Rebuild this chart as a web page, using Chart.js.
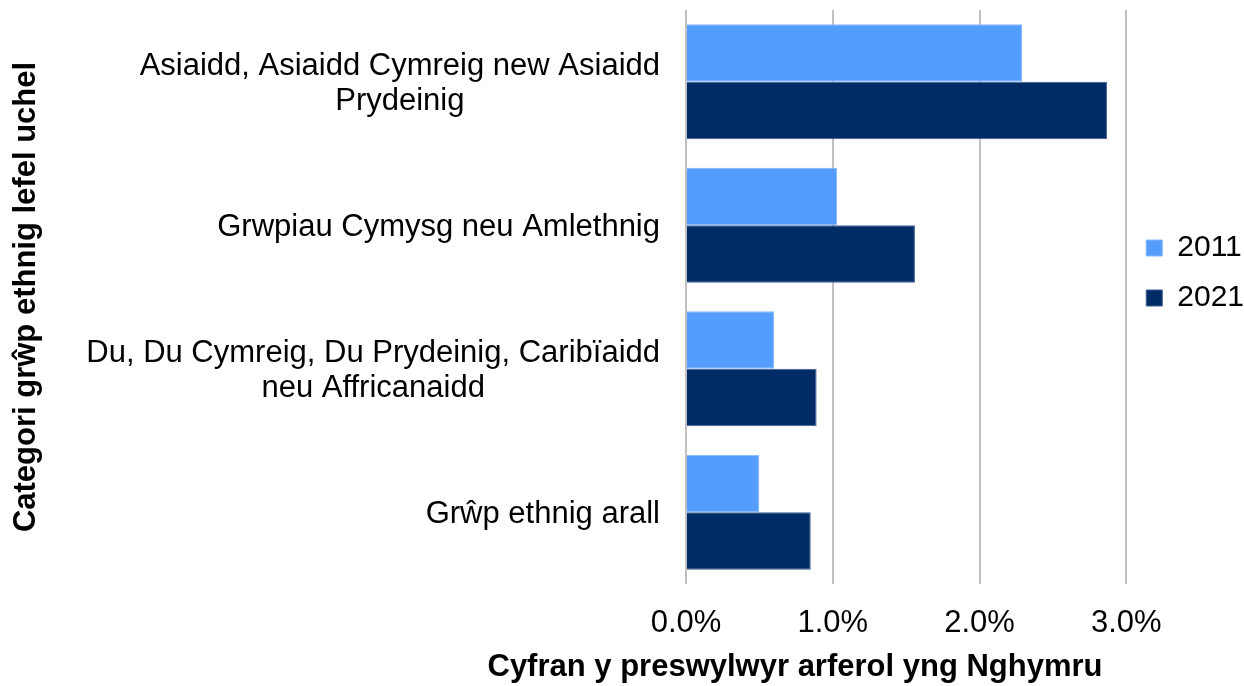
<!DOCTYPE html>
<html>
<head>
<meta charset="utf-8">
<script src="https://cdn.jsdelivr.net/npm/chart.js@4/dist/chart.umd.min.js"></script>
<style>
  body { margin: 0; background: #fff; }
</style>
</head>
<body>
<canvas id="myChart" width="1244" height="686"></canvas>
<script>
var categories = [
  ['Asiaidd, Asiaidd Cymreig new Asiaidd', 'Prydeinig'],
  ['Grwpiau Cymysg neu Amlethnig'],
  ['Du, Du Cymreig, Du Prydeinig, Caribïaidd', 'neu Affricanaidd'],
  ['Grŵp ethnig arall']
];
var values2011 = [2.29, 1.03, 0.60, 0.50];
var values2021 = [2.87, 1.56, 0.89, 0.85];
var seriesNames = ['2011', '2021'];
var xMin = 0, xMax = 3, xStep = 1;
var xTitle = 'Cyfran y preswylwyr arferol yng Nghymru';
var yTitle = 'Categori grŵp ethnig lefel uchel';

var fontFamily = '"Liberation Sans", Arial, sans-serif';
var fontSize = 31;

// category labels: lines centred on each other, block right-aligned to the axis
var catLabels = {
  id: 'catLabels',
  afterDraw: function(chart) {
    var ctx = chart.ctx, y = chart.scales.y, area = chart.chartArea;
    ctx.save();
    ctx.font = fontSize + 'px ' + fontFamily;
    ctx.fillStyle = '#000';
    ctx.textAlign = 'center';
    ctx.textBaseline = 'middle';
    categories.forEach(function(lines, i) {
      var cy = y.getPixelForValue(i);
      var w = Math.max.apply(null, lines.map(function(l) { return ctx.measureText(l).width; }));
      var cx = area.left - 26 - w / 2;
      lines.forEach(function(line, j) {
        ctx.fillText(line, cx, cy + 2 + (j - (lines.length - 1) / 2) * 35);
      });
    });
    ctx.font = 'bold ' + fontSize + 'px ' + fontFamily;
    ctx.textBaseline = 'alphabetic';
    ctx.fillText(xTitle, area.left + 109, 676);
    ctx.restore();
  }
};

var ctx = document.getElementById('myChart').getContext('2d');
var myChart = new Chart(ctx, {
  type: 'bar',
  data: {
    labels: categories.map(function(l) { return l.join(' '); }),
    datasets: [{
        label: seriesNames[0],
        data: values2011,
        backgroundColor: '#559cff',
        borderColor: '#86b8ff',
        borderWidth: 1
      }, {
        label: seriesNames[1],
        data: values2021,
        backgroundColor: '#002c66',
        borderColor: '#3d5f8f',
        borderWidth: 1
      }
    ]
  },
  plugins: [catLabels],
  options: {
    indexAxis: 'y',
    responsive: false,
    animation: false,
    layout: { padding: { top: 10, right: -10, bottom: 0, left: 0 } },
    datasets: { bar: { categoryPercentage: 0.8, barPercentage: 1.0 } },
    plugins: {
      legend: {
        position: 'right',
        align: 'start',
        title: { display: true, text: '', padding: { top: 191, bottom: 0 }, font: { size: 10 } },
        labels: {
          boxWidth: 16,
          boxHeight: 16,
          padding: 20,
          color: '#000',
          font: { family: fontFamily, size: 30 }
        }
      },
      tooltip: { enabled: false }
    },
    scales: {
      x: {
        min: xMin,
        max: xMax,
        ticks: {
          stepSize: xStep,
          padding: 21,
          color: '#000',
          font: { family: fontFamily, size: fontSize },
          callback: function(v) { return v.toFixed(1) + '%'; }
        },
        grid: { color: '#c0c0c0', lineWidth: 2, drawTicks: false },
        border: { display: false },
        afterFit: function(scale) { scale.height = 102; }
      },
      y: {
        ticks: { display: false },
        grid: { display: false },
        border: { display: false },
        title: {
          display: true,
          text: yTitle,
          color: '#000',
          padding: { top: 8, bottom: 0 },
          font: { family: fontFamily, size: fontSize, weight: 'bold' }
        },
        afterFit: function(scale) { scale.width = 686; }
      }
    }
  }
});
</script>
</body>
</html>
